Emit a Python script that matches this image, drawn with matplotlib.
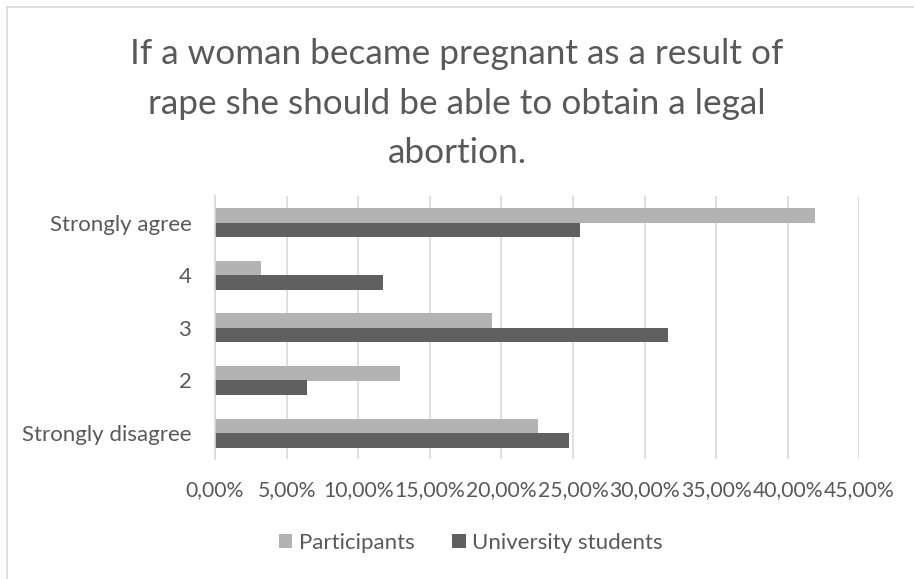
import matplotlib.pyplot as plt
import numpy as np
from matplotlib.lines import Line2D
from matplotlib.ticker import FuncFormatter

# survey answers, bottom to top as drawn
categories = ['Strongly disagree', '2', '3', '4', 'Strongly agree']
participants = [22.56, 12.90, 19.34, 3.21, 41.92]
university_students = [24.74, 6.42, 31.63, 11.71, 25.47]

title = 'If a woman became pregnant as a result of\nrape she should be able to obtain a legal\nabortion.'

text_col = '#595959'
plt.rcParams['font.family'] = ['Lato', 'DejaVu Sans']

W, H = 914, 579
fig = plt.figure(figsize=(W / 100, H / 100), dpi=100)
ax = fig.add_axes([215 / W, 1 - 459.4 / H, (859.4 - 215) / W, (459.4 - 196.4) / H])

y = np.arange(len(categories))
h = 0.276
ax.barh(y + h / 2, participants, height=h, color='#b3b3b3', label='Participants')
ax.barh(y - h / 2, university_students, height=h, color='#606060', label='University students')

ax.set_xlim(0, 45)
ax.set_ylim(-0.5, len(categories) - 0.5)
ax.set_xticks(np.arange(0, 46, 5))
ax.xaxis.set_major_formatter(FuncFormatter(lambda v, p: '{:.2f}%'.format(v).replace('.', ',')))
ax.set_yticks(y)
ax.set_yticklabels(categories)
ax.tick_params(length=0, labelsize=16, colors=text_col)
ax.tick_params(axis='y', pad=17)
ax.tick_params(axis='x', pad=15, labelsize=15.2)
ax.grid(axis='x', color='#d9d9d9', linewidth=1.2)
ax.set_axisbelow(True)
for s in ['top', 'right', 'bottom']:
    ax.spines[s].set_visible(False)
ax.spines['left'].set_color('#d9d9d9')
ax.spines['left'].set_linewidth(1.2)

fig.text(0.5, 1 - 38 / H, title, ha='center', va='top', fontsize=25.3,
         color=text_col, linespacing=1.68)

leg = fig.legend(loc='center', bbox_to_anchor=(471 / W, 1 - 543 / H), ncol=2,
                 frameon=False, fontsize=16, handlelength=0.6, handleheight=0.6,
                 handletextpad=0.3, columnspacing=1.7, borderpad=0)
for t in leg.get_texts():
    t.set_color(text_col)

# chart frame edges
fig.add_artist(Line2D([7 / W, 7 / W], [0, 1 - 7 / H], color='#d9d9d9', lw=1.2))
fig.add_artist(Line2D([7 / W, 1], [1 - 7 / H, 1 - 7 / H], color='#d9d9d9', lw=1.2))

fig.savefig('out.png', dpi=100)
